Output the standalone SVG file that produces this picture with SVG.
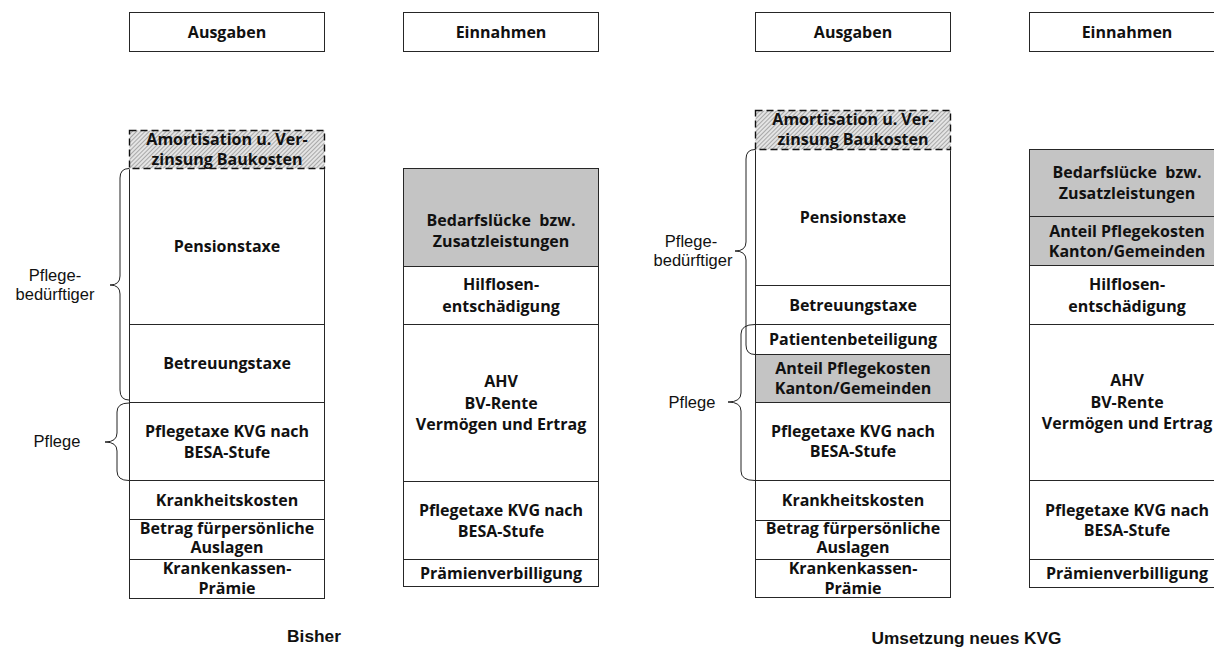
<svg xmlns="http://www.w3.org/2000/svg" width="1214" height="648" viewBox="0 0 1214 648">
<style>
.bx{fill:#fff;stroke:#262626;stroke-width:1}
.gr{fill:#c4c4c4;stroke:#262626;stroke-width:1}
.ht{fill:url(#hatch);stroke:none}
.dash{fill:none;stroke:#111;stroke-width:1.4;stroke-dasharray:7 4}
.t{font-family:"Open Sans","Liberation Sans",sans-serif;font-weight:700;font-size:16px;fill:#111;text-anchor:middle;white-space:pre}
.lb{font-family:"Liberation Sans",Arial,sans-serif;font-size:16.5px;fill:#111;text-anchor:middle}
.ft{font-family:"Liberation Sans",Arial,sans-serif;font-weight:700;font-size:17.3px;fill:#111;text-anchor:middle}
.br{fill:none;stroke:#222;stroke-width:1}
</style>
<defs>
<pattern id="hatch" patternUnits="userSpaceOnUse" width="3" height="3" patternTransform="rotate(45)">
<rect width="3" height="3" fill="#e4e4e4"/>
<rect width="1" height="3" fill="#a8a8a8"/>
</pattern>
</defs>
<rect width="1214" height="648" fill="#fff"/>

<g id="hdr-l-ausgaben"><rect class="bx" x="129.5" y="12.5" width="195" height="39"/><text class="t" x="227" y="37.5">Ausgaben</text></g>
<g id="hdr-l-einnahmen"><rect class="bx" x="403.5" y="12.5" width="195" height="39"/><text class="t" x="501" y="37.5">Einnahmen</text></g>
<g id="hdr-r-ausgaben"><rect class="bx" x="755.5" y="12.5" width="195" height="39"/><text class="t" x="853" y="37.5">Ausgaben</text></g>
<g id="hdr-r-einnahmen"><rect class="bx" x="1029.5" y="12.5" width="195" height="39"/><text class="t" x="1127" y="37.5">Einnahmen</text></g>

<!-- Left Ausgaben -->
<g id="l-pensionstaxe"><rect class="bx" x="129.5" y="168.5" width="195" height="156"/><text class="t" x="227" y="252">Pensionstaxe</text></g>
<g id="l-betreuungstaxe"><rect class="bx" x="129.5" y="324.5" width="195" height="78"/><text class="t" x="227" y="369">Betreuungstaxe</text></g>
<g id="l-pflegetaxe"><rect class="bx" x="129.5" y="402.5" width="195" height="78"/><text class="t" x="227" y="437">Pflegetaxe KVG nach</text><text class="t" x="227" y="457.5">BESA-Stufe</text></g>
<g id="l-krankheitskosten"><rect class="bx" x="129.5" y="480.5" width="195" height="39"/><text class="t" x="227" y="505.7">Krankheitskosten</text></g>
<g id="l-betrag"><rect class="bx" x="129.5" y="519.5" width="195" height="40"/><text class="t" x="227" y="533.5">Betrag fürpersönliche</text><text class="t" x="227" y="553">Auslagen</text></g>
<g id="l-krankenkassen"><rect class="bx" x="129.5" y="559.5" width="195" height="39"/><text class="t" x="227" y="574">Krankenkassen-</text><text class="t" x="227" y="594">Prämie</text></g>
<g id="l-amortisation"><line x1="129.5" y1="168.5" x2="324.5" y2="168.5" stroke="#fff" stroke-width="2"/><rect class="ht" x="129.5" y="130.5" width="195" height="38"/><rect class="dash" x="129.5" y="130.5" width="195" height="38"/><text class="t" x="227" y="144.5">Amortisation u. Ver-</text><text class="t" x="227" y="164.5">zinsung Baukosten</text></g>

<!-- Left Einnahmen -->
<g id="l-bedarfsluecke"><rect class="gr" x="403.5" y="168.5" width="195" height="98"/><text class="t" x="501" y="226">Bedarfslücke  bzw.</text><text class="t" x="501" y="247">Zusatzleistungen</text></g>
<g id="l-hilflosen"><rect class="bx" x="403.5" y="266.5" width="195" height="58"/><text class="t" x="501" y="290">Hilflosen-</text><text class="t" x="501" y="311.5">entschädigung</text></g>
<g id="l-ahv"><rect class="bx" x="403.5" y="324.5" width="195" height="157"/><text class="t" x="501" y="386.7">AHV</text><text class="t" x="501" y="408.5">BV-Rente</text><text class="t" x="501" y="430">Vermögen und Ertrag</text></g>
<g id="l-pflegetaxe-e"><rect class="bx" x="403.5" y="481.5" width="195" height="78"/><text class="t" x="501" y="516">Pflegetaxe KVG nach</text><text class="t" x="501" y="537">BESA-Stufe</text></g>
<g id="l-praemien"><rect class="bx" x="403.5" y="559.5" width="195" height="27"/><text class="t" x="501" y="579">Prämienverbilligung</text></g>

<!-- Right Ausgaben -->
<g id="r-pensionstaxe"><rect class="bx" x="755.5" y="149.5" width="195" height="136"/><text class="t" x="853" y="223">Pensionstaxe</text></g>
<g id="r-betreuungstaxe"><rect class="bx" x="755.5" y="285.5" width="195" height="39"/><text class="t" x="853" y="310.5">Betreuungstaxe</text></g>
<g id="r-patienten"><rect class="bx" x="755.5" y="324.5" width="195" height="30"/><text class="t" x="853" y="345">Patientenbeteiligung</text></g>
<g id="r-anteil"><rect class="gr" x="755.5" y="354.5" width="195" height="48"/><text class="t" x="853" y="373.5">Anteil Pflegekosten</text><text class="t" x="853" y="394">Kanton/Gemeinden</text></g>
<g id="r-pflegetaxe"><rect class="bx" x="755.5" y="402.5" width="195" height="78"/><text class="t" x="853" y="436.5">Pflegetaxe KVG nach</text><text class="t" x="853" y="457">BESA-Stufe</text></g>
<g id="r-krankheitskosten"><rect class="bx" x="755.5" y="480.5" width="195" height="40"/><text class="t" x="853" y="506">Krankheitskosten</text></g>
<g id="r-betrag"><rect class="bx" x="755.5" y="520.5" width="195" height="39"/><text class="t" x="853" y="534">Betrag fürpersönliche</text><text class="t" x="853" y="553">Auslagen</text></g>
<g id="r-krankenkassen"><rect class="bx" x="755.5" y="559.5" width="195" height="38"/><text class="t" x="853" y="574">Krankenkassen-</text><text class="t" x="853" y="594">Prämie</text></g>
<g id="r-amortisation"><line x1="755.5" y1="149.5" x2="950.5" y2="149.5" stroke="#fff" stroke-width="2"/><rect class="ht" x="755.5" y="110.5" width="195" height="39"/><rect class="dash" x="755.5" y="110.5" width="195" height="39"/><text class="t" x="853" y="125">Amortisation u. Ver-</text><text class="t" x="853" y="145">zinsung Baukosten</text></g>

<!-- Right Einnahmen -->
<g id="r-bedarfsluecke"><rect class="gr" x="1029.5" y="149.5" width="195" height="67"/><text class="t" x="1127" y="178">Bedarfslücke  bzw.</text><text class="t" x="1127" y="198.5">Zusatzleistungen</text></g>
<g id="r-anteil-e"><rect class="gr" x="1029.5" y="216.5" width="195" height="49"/><text class="t" x="1127" y="237">Anteil Pflegekosten</text><text class="t" x="1127" y="257">Kanton/Gemeinden</text></g>
<g id="r-hilflosen"><rect class="bx" x="1029.5" y="265.5" width="195" height="59"/><text class="t" x="1127" y="289.5">Hilflosen-</text><text class="t" x="1127" y="311.5">entschädigung</text></g>
<g id="r-ahv"><rect class="bx" x="1029.5" y="324.5" width="195" height="156"/><text class="t" x="1127" y="386">AHV</text><text class="t" x="1127" y="407.5">BV-Rente</text><text class="t" x="1127" y="429">Vermögen und Ertrag</text></g>
<g id="r-pflegetaxe-e"><rect class="bx" x="1029.5" y="480.5" width="195" height="79"/><text class="t" x="1127" y="516">Pflegetaxe KVG nach</text><text class="t" x="1127" y="536">BESA-Stufe</text></g>
<g id="r-praemien"><rect class="bx" x="1029.5" y="559.5" width="195" height="28"/><text class="t" x="1127" y="579">Prämienverbilligung</text></g>

<!-- Braces -->
<g id="connectors">
<path class="br" d="M129,168.5 Q120,168.5 120,178 L120,276 Q120,285 110,285 Q120,285 120,294 L120,390 Q120,400 129,400"/>
<path class="br" d="M129,403 Q117,403 117,412 L117,433 Q117,442 105,442 Q117,442 117,451 L117,471 Q117,480.5 129,480.5"/>
<path class="br" d="M755,149.5 Q746,149.5 746,159 L746,242 Q746,251 735,251 Q746,251 746,260 L746,345 Q746,354.5 755,354.5"/>
<path class="br" d="M755,324.5 Q741,324.5 741,334 L741,393 Q741,402 728,402 Q741,402 741,411 L741,471 Q741,480.5 755,480.5"/>
</g>

<g id="labels">
<text class="lb" x="55" y="281">Pflege-</text>
<text class="lb" x="55" y="300">bedürftiger</text>
<text class="lb" x="57" y="447">Pflege</text>
<text class="lb" x="691" y="246.5">Pflege-</text>
<text class="lb" x="693" y="265.5">bedürftiger</text>
<text class="lb" x="692" y="407.5">Pflege</text>
<text class="ft" x="314" y="642">Bisher</text>
<text class="ft" x="966.5" y="643.5">Umsetzung neues KVG</text>
</g>
</svg>
